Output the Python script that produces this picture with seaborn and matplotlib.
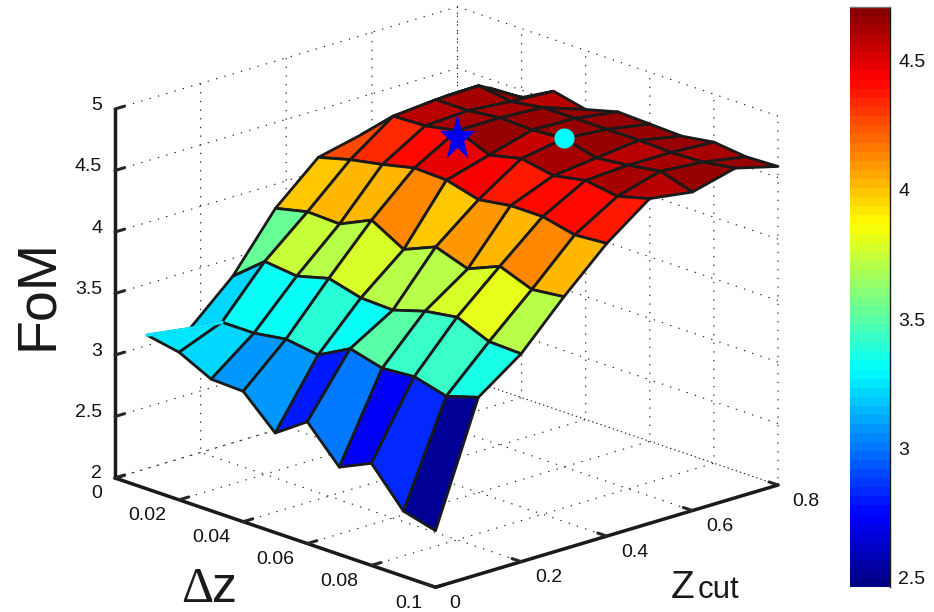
import matplotlib
matplotlib.use("Agg")
import matplotlib.pyplot as plt
import seaborn as sns
import numpy as np
from matplotlib.colors import ListedColormap, Normalize
from matplotlib.cm import ScalarMappable
from matplotlib.markers import MarkerStyle
from matplotlib.transforms import Affine2D
from mpl_toolkits.mplot3d import proj3d

dz = [0.01, 0.02, 0.03, 0.04, 0.05, 0.06, 0.07, 0.08, 0.09, 0.10]
zcut = [0.0, 0.1, 0.2, 0.3, 0.4, 0.5, 0.6, 0.7, 0.8]
fom = [
    [3.25, 3.20, 3.52, 3.97, 4.28, 4.36, 4.43, 4.47, 4.43],
    [3.20, 3.34, 3.73, 4.03, 4.35, 4.60, 4.63, 4.64, 4.44],
    [3.07, 3.34, 3.70, 4.02, 4.40, 4.61, 4.63, 4.60, 4.58],
    [3.06, 3.38, 3.77, 4.14, 4.46, 4.66, 4.66, 4.64, 4.52],
    [2.81, 3.34, 3.70, 3.99, 4.45, 4.55, 4.65, 4.64, 4.59],
    [2.99, 3.48, 3.69, 4.10, 4.38, 4.61, 4.67, 4.64, 4.58],
    [2.71, 3.41, 3.77, 4.01, 4.42, 4.56, 4.60, 4.64, 4.57],
    [2.83, 3.43, 3.81, 4.12, 4.42, 4.61, 4.63, 4.63, 4.61],
    [2.53, 3.36, 3.70, 4.02, 4.36, 4.57, 4.67, 4.64, 4.58],
    [2.46, 3.44, 3.69, 4.05, 4.38, 4.64, 4.59, 4.68, 4.59],
]
star_point = (0.04, 0.5, 4.60)
dot_point = (0.06, 0.6, 4.67)

dz_ticks = [0, 0.02, 0.04, 0.06, 0.08, 0.1]
dz_labels = ["0", "0.02", "0.04", "0.06", "0.08", "0.1"]
zcut_ticks = [0, 0.2, 0.4, 0.6, 0.8]
zcut_labels = ["0", "0.2", "0.4", "0.6", "0.8"]
fom_ticks = [2, 2.5, 3, 3.5, 4, 4.5, 5]
fom_labels = ["2", "2.5", "3", "3.5", "4", "4.5", "5"]
bar_ticks = [2.5, 3, 3.5, 4, 4.5]
bar_labels = ["2.5", "3", "3.5", "4", "4.5"]

sns.set_theme(style="white")
plt.rcParams["font.family"] = ["Liberation Sans", "DejaVu Sans"]

W, H = 934, 612
fig = plt.figure(figsize=(W / 100, H / 100), dpi=100)
ax = fig.add_axes([0.1, 0.1, 0.8 * H / W, 0.8], projection="3d", proj_type="ortho")
ax.computed_zorder = False
ax.view_init(elev=18.6, azim=-43.1)
ax.set_box_aspect((1, 1, 0.83))
ax.set_xlim(0, 0.1, view_margin=0)
ax.set_ylim(0, 0.8, view_margin=0)
ax.set_zlim(2, 5, view_margin=0)

# matlab's jet, slightly different from the matplotlib one
t = (np.arange(64) + 0.5) / 64
cmap = ListedColormap(np.clip(np.c_[np.minimum(4 * t - 1.5, 4.5 - 4 * t),
                                    np.minimum(4 * t - 0.5, 3.5 - 4 * t),
                                    np.minimum(4 * t + 0.5, 2.5 - 4 * t)], 0, 1))
norm = Normalize(2.465, 4.705)
X, Y = np.meshgrid(dz, zcut, indexing="ij")
Z = np.array(fom)
surf = ax.plot_surface(X, Y, Z, rstride=1, cstride=1, facecolors=cmap(norm(Z)),
                       shade=False, linewidth=2.0, zorder=2)
surf.set_edgecolor("k")

# the first cell has no dark rim on its far side in the reference
ax.plot(X[[0, 0, 1], [0, 1, 1]], Y[[0, 0, 1], [0, 1, 1]], Z[[0, 0, 1], [0, 1, 1]],
        color=cmap(norm(Z[0, 0])), lw=2.4, zorder=3)

star = MarkerStyle("*", transform=Affine2D().scale(1, 1.35))
ax.scatter(*star_point, marker=star, s=700, color="#0000f0", linewidths=0,
           depthshade=False, zorder=5)
ax.scatter(*dot_point, marker="o", s=210, color="#00ffff", linewidths=0,
           depthshade=False, zorder=5)

ax.set_xticks(dz_ticks, [""] * len(dz_ticks))
ax.set_yticks(zcut_ticks, [""] * len(zcut_ticks))
ax.set_zticks(fom_ticks, [""] * len(fom_ticks))
ax.zaxis.set_ticks_position("lower")
for axis in (ax.xaxis, ax.yaxis, ax.zaxis):
    axis.pane.set_facecolor("white")
    axis.pane.set_edgecolor("none")
    axis.line.set_color("k")
    axis.line.set_linewidth(2.5)
    axis._axinfo["grid"].update(color="k", linewidth=0.8, linestyle=(0, (1.2, 6.6)))
    axis._axinfo["tick"].update(inward_factor=0.0, outward_factor=0.35, color="k")
    axis._axinfo["tick"]["linewidth"] = {True: 2.2, False: 1.0}
ax.grid(True)


def corner(x, y, z):
    p = proj3d.proj_transform(x, y, z, ax.get_proj())
    return ax.transData.transform((p[0], p[1]))


# scale and shift the axes so the box lands where it sits in the reference
fig.canvas.draw()
span = corner(0.1, 0.8, 2)[0] - corner(0, 0, 2)[0]
pos = ax.get_position()
side = pos.height * H * (778 - 115) / span
ax.set_position([pos.x0, pos.y0, side / W, side / H])
fig.canvas.draw()
a = corner(0, 0, 2)
pos = ax.get_position()
ax.set_position([pos.x0 + (115 - a[0]) / W, pos.y0 + ((H - 478) - a[1]) / H,
                 pos.width, pos.height])
fig.canvas.draw()


def tick_text(point, s, dx, dy, ha):
    x, y = corner(*point)
    fig.text((x + dx) / W, (y - dy) / H, s, fontsize=14, color="#111111", ha=ha, va="center")


for v, s in zip(dz_ticks, dz_labels):
    tick_text((v, 0, 2), s, -13, 16, "right")
for v, s in zip(zcut_ticks, zcut_labels):
    tick_text((0.1, v, 2), s, 14, 16, "left")
for v, s in zip(fom_ticks, fom_labels):
    tick_text((0, 0, v), s, -13, -4, "right")

cax = fig.add_axes([850 / W, 1 - 587 / H, 40 / W, 580 / H])
cb = fig.colorbar(ScalarMappable(norm, cmap), cax=cax, drawedges=False)
cb.outline.set_visible(False)
cb.set_ticks(bar_ticks, labels=bar_labels)
cax.tick_params(axis="y", direction="in", length=4, width=1, labelsize=14, pad=6,
                colors="#111111", right=True)
cax.spines["right"].set_visible(True)
cax.spines["right"].set_color("k")
cax.spines["right"].set_linewidth(1)
cax.spines["top"].set_visible(True)
cax.spines["top"].set_color("#777777")
cax.spines["top"].set_linewidth(1)


def put(x, y, s, **kw):
    fig.text(x / W, 1 - y / H, s, color="k", ha="left", va="baseline", **kw)


put(52, 350, "FoM", fontsize=40, rotation=90, rotation_mode="anchor")
put(181, 602, "Δ", fontsize=36, family="Liberation Serif")
put(212, 602, "z", fontsize=36)
put(671, 598, "Z", fontsize=28)
put(698, 598, "cut", fontsize=22.5)

fig.savefig("out.png", dpi=100)
